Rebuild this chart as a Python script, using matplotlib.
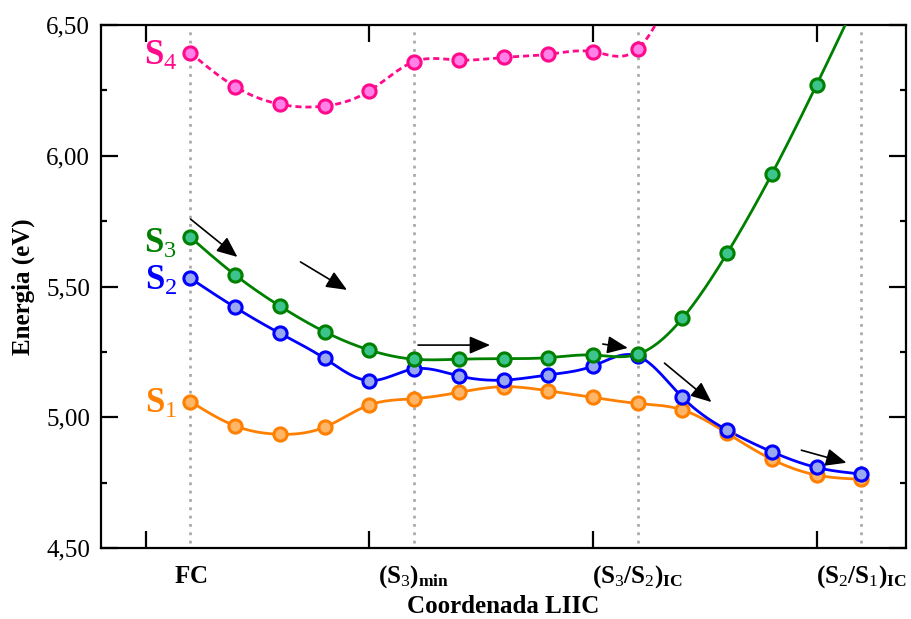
import numpy as np
import matplotlib
matplotlib.use("Agg")
import matplotlib.pyplot as plt
from matplotlib.ticker import FixedLocator, MultipleLocator, FuncFormatter
import matplotlib.transforms as mtransforms

plt.rcParams["font.family"] = ["Liberation Serif", "DejaVu Serif"]
plt.rcParams["mathtext.fontset"] = "custom"
plt.rcParams["mathtext.rm"] = "Liberation Serif"
plt.rcParams["mathtext.it"] = "Liberation Serif:italic"
plt.rcParams["mathtext.bf"] = "Liberation Serif:bold"

# LIIC path: 16 geometries, key structures every 5 steps
steps = np.arange(16)
s1 = [5.060, 4.967, 4.935, 4.962, 5.047, 5.071, 5.095, 5.117, 5.101, 5.076,
      5.053, 5.028, 4.939, 4.839, 4.779, 4.763]
s2 = [5.531, 5.420, 5.321, 5.225, 5.140, 5.185, 5.158, 5.142, 5.162, 5.196,
      5.234, 5.076, 4.951, 4.868, 4.808, 4.783]
s3 = [5.688, 5.544, 5.425, 5.327, 5.257, 5.222, 5.222, 5.224, 5.228, 5.238,
      5.241, 5.378, 5.627, 5.930, 6.271, 6.630]
s4 = [6.393, 6.264, 6.197, 6.190, 6.248, 6.360, 6.366, 6.376, 6.388, 6.398,
      6.408, 6.720]

key_steps = [0, 5, 10, 15]
key_labels = [r"$\mathbf{FC}$",
              r"$\mathbf{(S}_{\mathrm{3}}\mathbf{)}_{\mathbf{min}}$",
              r"$\mathbf{(S}_{\mathrm{3}}\mathbf{/S}_{\mathrm{2}}\mathbf{)}_{\mathbf{IC}}$",
              r"$\mathbf{(S}_{\mathrm{2}}\mathbf{/S}_{\mathrm{1}}\mathbf{)}_{\mathbf{IC}}$"]

# (start, end) of the decay arrows along the path
arrows = [((0.00, 5.758), (1.05, 5.613)),
          ((2.46, 5.594), (3.50, 5.487)),
          ((5.09, 5.276), (6.70, 5.276)),
          ((9.22, 5.280), (9.78, 5.265)),
          ((10.60, 5.207), (11.65, 5.058)),
          ((13.66, 4.874), (14.67, 4.826))]


def natural_spline(x, y, n=400):
    x = np.asarray(x, float)
    y = np.asarray(y, float)
    m = len(x)
    h = np.diff(x)
    A = np.zeros((m, m))
    r = np.zeros(m)
    A[0, 0] = A[-1, -1] = 1.0
    for i in range(1, m - 1):
        A[i, i - 1] = h[i - 1]
        A[i, i] = 2 * (h[i - 1] + h[i])
        A[i, i + 1] = h[i]
        r[i] = 3 * ((y[i + 1] - y[i]) / h[i] - (y[i] - y[i - 1]) / h[i - 1])
    c = np.linalg.solve(A, r)
    b = (y[1:] - y[:-1]) / h - h * (2 * c[:-1] + c[1:]) / 3
    d = (c[1:] - c[:-1]) / (3 * h)
    xs = np.linspace(x[0], x[-1], n)
    k = np.clip(np.searchsorted(x, xs) - 1, 0, m - 2)
    t = xs - x[k]
    ys = y[k] + b[k] * t + c[k] * t ** 2 + d[k] * t ** 3
    return xs, ys


fig = plt.figure(figsize=(9.11, 6.19), dpi=100)
ax = fig.add_axes([0.1109, 0.1147, 0.8836, 0.8449])

for k in key_steps:
    ax.axvline(k, ymin=0.01, ymax=0.99, color="#aaaaaa", ls=(0, (1, 2.0)),
               lw=2, zorder=1)

series = [
    (s1, "#ff8000", "#ffb566", "-", r"$\mathbf{S}_{\mathrm{1}}$", 5.050),
    (s2, "#0000ff", "#9aa8f0", "-", r"$\mathbf{S}_{\mathrm{2}}$", 5.518),
    (s3, "#008000", "#3cc48c", "-", r"$\mathbf{S}_{\mathrm{3}}$", 5.663),
    (s4, "#ff0a8c", "#ff80e6", (0, (2.2, 1.4)), r"$\mathbf{S}_{\mathrm{4}}$", 6.382),
]
for vals, col, fill, ls, lab, ly in series:
    x = steps[:len(vals)]
    xs, ys = natural_spline(x, vals)
    ax.plot(xs, ys, color=col, lw=2.0, ls=ls, zorder=3)
    ax.plot(x, vals, ls="none", marker="o", ms=9.5, mfc=fill, mec=col,
            mew=2.2, zorder=4)
    ax.text(-0.3, ly, lab, color=col, fontsize=25, ha="right", va="center")

for (x0, y0), (x1, y1) in arrows:
    ax.annotate("", xy=(x1, y1), xytext=(x0, y0),
                arrowprops=dict(arrowstyle="-|>,head_length=0.7,head_width=0.3",
                                color="black", lw=1.2,
                                mutation_scale=18, shrinkA=0, shrinkB=0),
                zorder=5)

ax.set_xlim(-2, 16)
ax.set_ylim(4.5, 6.5)
ax.xaxis.set_major_locator(FixedLocator([-1, 4, 9, 14]))
ax.xaxis.set_ticklabels([])
ax.yaxis.set_major_locator(MultipleLocator(0.5))
ax.yaxis.set_minor_locator(MultipleLocator(0.25))
ax.yaxis.set_major_formatter(FuncFormatter(lambda v, p: f"{v:.2f}".replace(".", ",")))
ax.tick_params(which="major", direction="in", length=12, width=1.6,
               top=True, right=True, labelsize=18, pad=8)
ax.tick_params(which="minor", direction="in", length=4, width=1.6,
               right=True)
for sp in ax.spines.values():
    sp.set_linewidth(1.6)

trans = mtransforms.blended_transform_factory(ax.transData, ax.transAxes)
for k, lab in zip(key_steps, key_labels):
    ax.text(k, -0.055, lab, transform=trans, fontsize=18, ha="center",
            va="center")

ax.set_xlabel("Coordenada LIIC", fontsize=18, fontweight="bold", labelpad=26)
ax.set_ylabel("Energia (eV)", fontsize=18, fontweight="bold", labelpad=8)

fig.savefig("out.png", dpi=100)
